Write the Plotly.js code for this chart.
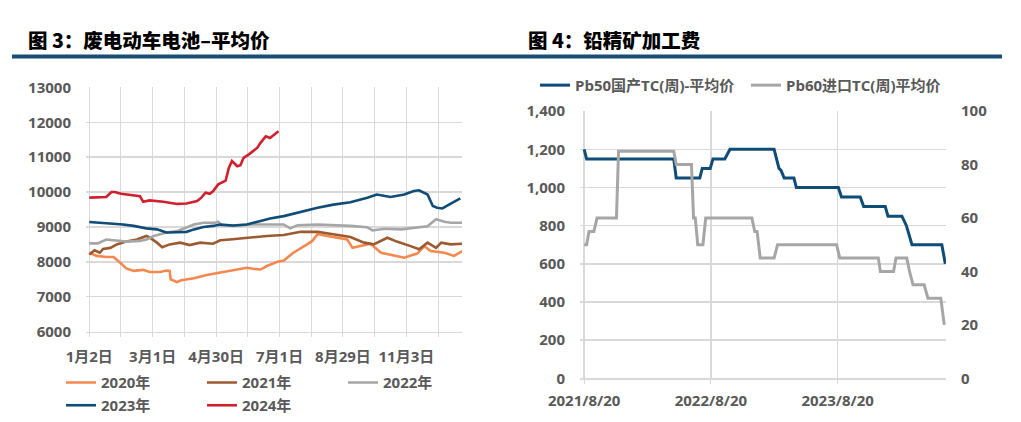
<!DOCTYPE html>
<html>
<head>
<meta charset="utf-8">
<script src="https://cdn.plot.ly/plotly-3.0.1.min.js"></script>
<style>
  html, body { margin: 0; padding: 0; background: #fff; }
  #chart { width: 1021px; height: 422px; }
</style>
</head>
<body>
<div id="chart"></div>
<script>
// left panel: day index from 1月2日
var tickDays = [0, 60, 120, 180, 240, 300];
var tickNames = ['1月2日', '3月1日', '4月30日', '7月1日', '8月29日', '11月3日'];

var days2020 = [0,7,16,23,29,35,42,51,57,67,73,76,77,83,87,99,111,124,136,149,155,162,168,178,184,193,206,211,216,225,238,244,249,257,266,276,285,298,307,310,317,323,336,345,353];
var vals2020 = [8260,8170,8140,8140,7980,7810,7740,7770,7710,7710,7750,7740,7500,7420,7470,7530,7620,7690,7760,7830,7800,7780,7880,8000,8040,8260,8500,8600,8790,8740,8690,8640,8400,8450,8520,8260,8200,8120,8210,8230,8450,8310,8260,8170,8310];

var days2021 = [0,5,10,13,20,26,35,45,54,57,64,69,76,86,95,105,117,124,133,143,152,168,184,200,216,231,247,260,269,282,291,304,312,320,328,333,342,353];
var vals2021 = [8210,8330,8260,8370,8400,8500,8580,8640,8740,8700,8550,8420,8500,8550,8480,8550,8520,8620,8640,8670,8690,8740,8770,8860,8860,8790,8710,8550,8500,8690,8580,8450,8360,8550,8400,8550,8500,8520];

var days2022 = [0,8,16,26,35,48,54,61,67,73,83,91,99,108,119,122,125,136,152,184,190,197,216,247,263,268,279,295,310,320,328,336,342,353];
var vals2022 = [8530,8530,8640,8600,8580,8600,8640,8740,8800,8840,8880,8980,9070,9120,9120,9150,9050,9030,9070,9070,8960,9050,9070,9030,8990,8900,8950,8930,8980,9020,9220,9150,9120,9120];

var days2023 = [0,13,23,32,42,54,64,73,83,92,99,108,117,124,136,149,162,171,184,200,216,231,247,263,272,285,298,307,312,320,325,329,334,342,351];
var vals2023 = [9140,9120,9090,9070,9030,8960,8930,8840,8850,8860,8930,9000,9030,9070,9040,9070,9170,9240,9310,9430,9550,9640,9710,9840,9930,9860,9930,10030,10050,9930,9600,9550,9530,9670,9820];

var days2024 = [0,10,16,21,24,30,48,51,57,70,83,92,102,106,110,114,117,122,129,132,135,140,143,146,151,159,162,167,171,176,179];
var vals2024 = [9840,9860,9860,10000,10000,9950,9880,9720,9760,9720,9660,9670,9740,9840,9980,9950,10020,10220,10330,10690,10890,10740,10770,10980,11080,11270,11410,11600,11550,11670,11740];

// right panel
var pb50Dates = ['2021-08-20','2021-08-27','2022-05-05','2022-05-12','2022-07-19','2022-07-26','2022-08-18','2022-08-26','2022-09-29','2022-10-14','2023-02-18','2023-03-04','2023-03-10','2023-03-19','2023-04-16','2023-04-23','2023-08-22','2023-08-31','2023-10-24','2023-11-03','2024-01-04','2024-01-12','2024-02-21','2024-03-01','2024-03-05','2024-03-21','2024-06-15','2024-06-25'];
var pb50Vals = [1200,1150,1150,1050,1050,1100,1100,1150,1150,1200,1200,1100,1090,1050,1050,1000,1000,950,950,900,900,850,850,820,800,700,700,600];

var pb60Dates = ['2021-08-20','2021-08-27','2021-09-03','2021-09-17','2021-09-26','2021-11-21','2021-11-27','2022-05-05','2022-05-12','2022-06-25','2022-07-01','2022-07-06','2022-07-13','2022-07-28','2022-08-05','2022-12-16','2022-12-24','2022-12-31','2023-01-09','2023-02-18','2023-02-28','2023-08-17','2023-08-26','2023-12-15','2023-12-21','2024-01-28','2024-02-04','2024-03-06','2024-03-14','2024-03-24','2024-04-25','2024-05-06','2024-06-12','2024-06-22'];
var pb60Vals = [50,50,55,55,60,60,85,85,80,80,60,60,50,50,60,60,55,55,45,45,50,50,45,45,40,40,45,45,40,35,35,30,30,20];

var W = 1021, H = 422;
function px(x) { return x / W; }
function py(y) { return (H - y) / H; }

var font = { family: 'Open Sans, Noto Sans CJK SC, sans-serif', size: 15, color: '#595959', weight: 'bold' };
var grid = '#D9D9D9';

function yearLine(x, y, name, color, legend) {
    return { x: x, y: y, name: name, type: 'scatter', mode: 'lines', xaxis: 'x', yaxis: 'y',
             legend: legend, line: { color: color, width: 2.6 } };
}

var traces = [
    yearLine(days2020, vals2020, '2020年', '#F4884F', 'legend'),
    yearLine(days2021, vals2021, '2021年', '#9C5A31', 'legend'),
    yearLine(days2022, vals2022, '2022年', '#A6A6A6', 'legend'),
    yearLine(days2023, vals2023, '2023年', '#0F4C78', 'legend2'),
    yearLine(days2024, vals2024, '2024年', '#D0202E', 'legend2'),
    { x: pb50Dates, y: pb50Vals, name: 'Pb50国产TC(周)-平均价', type: 'scatter', mode: 'lines',
      xaxis: 'x2', yaxis: 'y2', legend: 'legend3', line: { color: '#0F4C78', width: 3 } },
    { x: pb60Dates, y: pb60Vals, name: 'Pb60进口TC(周)平均价', type: 'scatter', mode: 'lines',
      xaxis: 'x2', yaxis: 'y3', legend: 'legend3', line: { color: '#A6A6A6', width: 3 } }
];

var titleFont = { family: 'Noto Sans CJK SC, sans-serif', size: 19.5, color: '#000', weight: 900 };

var layout = {
    width: W, height: H,
    margin: { l: 0, r: 0, t: 0, b: 0 },
    paper_bgcolor: '#fff', plot_bgcolor: '#fff',
    font: font,
    xaxis: {
        domain: [px(86), px(462)], range: [-3.1, 352.6],
        tickmode: 'array', tickvals: tickDays, ticktext: tickNames,
        showgrid: true, gridcolor: grid, gridwidth: 1,
        showline: true, linecolor: grid, linewidth: 1.5,
        ticks: 'outside', ticklen: 4, tickcolor: grid,
        minor: { tickmode: 'linear', tick0: 0, dtick: 30, showgrid: true, gridcolor: grid,
                 ticks: 'outside', ticklen: 4, tickcolor: grid },
        zeroline: false, fixedrange: true, ticklabelstandoff: 7
    },
    yaxis: {
        domain: [py(334), py(88)], range: [6000, 13000], dtick: 1000, tickformat: 'd',
        showgrid: true, gridcolor: grid, gridwidth: 1.5, zeroline: false,
        ticklabelstandoff: 14
    },
    xaxis2: {
        domain: [px(580), px(946)], anchor: 'y2', type: 'date',
        range: ['2021-08-08', '2024-06-27'],
        tickmode: 'array', tickvals: ['2021-08-20', '2022-08-20', '2023-08-20'],
        ticktext: ['2021/8/20', '2022/8/20', '2023/8/20'],
        showgrid: true, gridcolor: grid, gridwidth: 1.5,
        showline: true, linecolor: grid, linewidth: 1.5,
        ticks: 'outside', ticklen: 4, tickcolor: grid, zeroline: false, ticklabelstandoff: 4
    },
    yaxis2: {
        domain: [py(381), py(112)], anchor: 'x2', range: [0, 1400], dtick: 200, tickformat: ',d',
        showgrid: true, gridcolor: grid, gridwidth: 1.5, zeroline: false,
        ticklabelstandoff: 14
    },
    yaxis3: {
        overlaying: 'y2', anchor: 'x2', side: 'right', range: [0, 100], dtick: 20,
        showgrid: false, zeroline: false, ticklabelstandoff: 14
    },
    legend: { orientation: 'h', x: px(61), xanchor: 'left', y: py(385.5), yanchor: 'middle',
              entrywidth: 96, entrywidthmode: 'pixels', font: font, bgcolor: 'rgba(0,0,0,0)' },
    legend2: { orientation: 'h', x: px(61), xanchor: 'left', y: py(408.5), yanchor: 'middle',
               entrywidth: 96, entrywidthmode: 'pixels', font: font, bgcolor: 'rgba(0,0,0,0)' },
    legend3: { orientation: 'h', x: px(535), xanchor: 'left', y: py(86), yanchor: 'middle',
               entrywidth: 166, entrywidthmode: 'pixels', font: font, bgcolor: 'rgba(0,0,0,0)' },
    shapes: [
        { type: 'rect', xref: 'paper', yref: 'paper', x0: px(12), x1: px(1002), y0: py(59), y1: py(55),
          fillcolor: '#1A4D76', line: { width: 0 } }
    ],
    annotations: [
        { text: '图 3：废电动车电池–平均价', xref: 'paper', yref: 'paper', x: px(26), y: py(40),
          xanchor: 'left', yanchor: 'middle', showarrow: false, font: titleFont },
        { text: '图 4：铅精矿加工费', xref: 'paper', yref: 'paper', x: px(526), y: py(40),
          xanchor: 'left', yanchor: 'middle', showarrow: false, font: titleFont }
    ]
};

Plotly.newPlot('chart', traces, layout, { displayModeBar: false, staticPlot: true });
</script>
</body>
</html>
